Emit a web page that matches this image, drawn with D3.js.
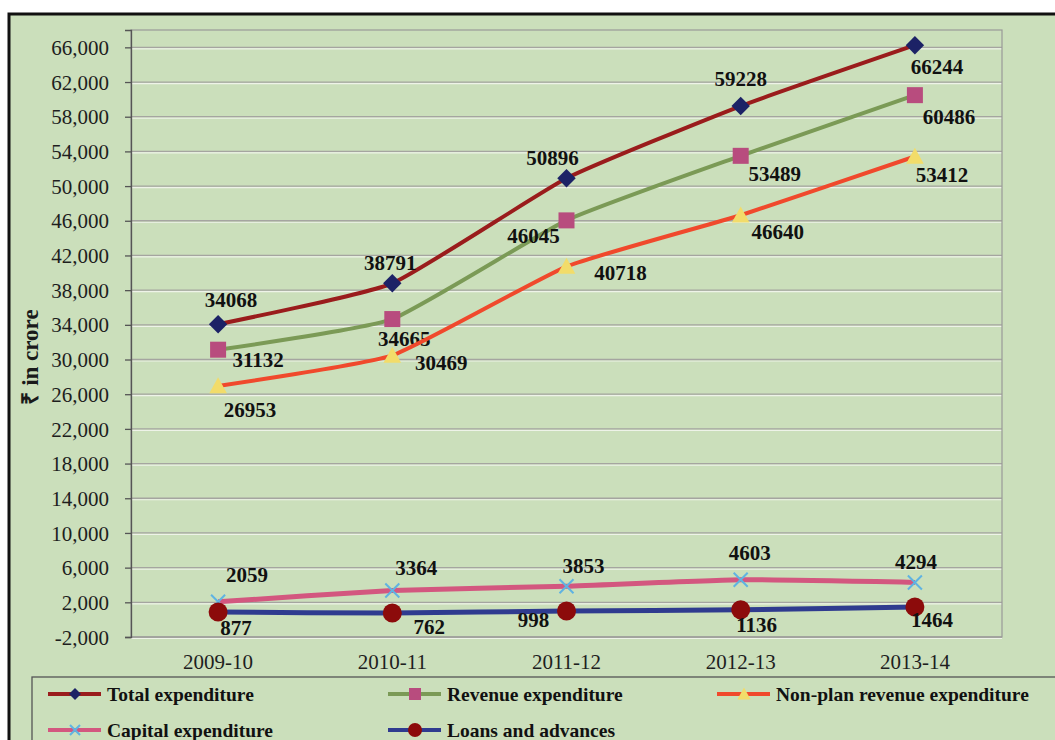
<!DOCTYPE html>
<html>
<head>
<meta charset="utf-8">
<script src="https://cdn.jsdelivr.net/npm/d3@7"></script>
<style>
  body { margin: 0; background: #fff; }
  svg { display: block; }
  text { font-family: "Liberation Serif", "Times New Roman", serif; }
</style>
</head>
<body>
<svg id="chart" width="1055" height="740"></svg>
<script>
// years on the x axis
const years = ["2009-10", "2010-11", "2011-12", "2012-13", "2013-14"];

// series values (₹ in crore)
const totalExp = [34068, 38791, 50896, 59228, 66244];
const revenueExp = [31132, 34665, 46045, 53489, 60486];
const nonPlanExp = [26953, 30469, 40718, 46640, 53412];
const capitalExp = [2059, 3364, 3853, 4603, 4294];
const loansAdv = [877, 762, 998, 1136, 1464];

// y ticks
const yTicks = [-2000, 2000, 6000, 10000, 14000, 18000, 22000, 26000, 30000,
    34000, 38000, 42000, 46000, 50000, 54000, 58000, 62000, 66000];

// styling + label nudges per series (kept apart from the values)
const series = [
    { name: "Total expenditure", values: totalExp, line: "#9a1c1c", marker: "diamond", fill: "#1c2266", width: 4,
      lab: [[13, -25], [-2, -21], [-14, -21], [0, -27], [22, 21]] },
    { name: "Revenue expenditure", values: revenueExp, line: "#7b9a56", marker: "square", fill: "#b84c7e", width: 4,
      lab: [[40, 10], [12, 20], [-33, 15], [34, 18], [34, 21]] },
    { name: "Non-plan revenue expenditure", values: nonPlanExp, line: "#f0492c", marker: "triangle", fill: "#f2dc6a", width: 4,
      lab: [[32, 24], [49, 7], [54, 6], [37, 16], [27, 18]] },
    { name: "Capital expenditure", values: capitalExp, line: "#d3577f", marker: "cross", fill: "#5fb3e2", width: 5,
      lab: [[29, -27], [24, -23], [17, -21], [9, -27], [1, -21]] },
    { name: "Loans and advances", values: loansAdv, line: "#2f3b8f", marker: "circle", fill: "#8c0b0b", width: 5,
      lab: [[18, 16], [37, 14], [-33, 9], [16, 15], [17, 13]] }
];

const svg = d3.select("#chart");
const margin = { top: 30, right: 53, bottom: 103, left: 131 };
const W = 1055, H = 740;

// outer frame (runs off the picture on the right and bottom)
svg.append("rect")
    .attr("x", 9).attr("y", 14)
    .attr("width", 1080).attr("height", 760)
    .attr("fill", "#cbdfbb")
    .attr("stroke", "#111").attr("stroke-width", 3);

const x = d3.scaleBand()
    .domain(years)
    .range([margin.left, W - margin.right])
    .padding(0);

const y = d3.scaleLinear()
    .domain([-2000, 68000])
    .range([H - margin.bottom, margin.top]);

const cx = d => x(d) + x.bandwidth() / 2;

// gridlines
const grid = svg.append("g");
grid.selectAll("line.w")
    .data(yTicks)
    .join("line")
    .attr("class", "w")
    .attr("x1", margin.left).attr("x2", W - margin.right)
    .attr("y1", d => y(d) + 1.5).attr("y2", d => y(d) + 1.5)
    .attr("stroke", "#eef3e8").attr("stroke-width", 1.2);
grid.selectAll("line.g")
    .data(yTicks)
    .join("line")
    .attr("class", "g")
    .attr("x1", margin.left).attr("x2", W - margin.right)
    .attr("y1", d => y(d)).attr("y2", d => y(d))
    .attr("stroke", "#a5a5a0").attr("stroke-width", 1.3);

// plot area border
svg.append("rect")
    .attr("x", margin.left).attr("y", margin.top)
    .attr("width", W - margin.right - margin.left)
    .attr("height", H - margin.bottom - margin.top)
    .attr("fill", "none")
    .attr("stroke", "#9a9a98").attr("stroke-width", 1.2);

// y axis
const fmt = d3.format(",");
svg.append("g")
    .attr("transform", `translate(${margin.left},0)`)
    .call(d3.axisLeft(y).tickValues(yTicks).tickSize(6).tickPadding(16)
        .tickFormat(d => fmt(d).replace("\u2212", "-")))
    .call(g => g.select(".domain").attr("stroke", "#555").attr("stroke-width", 1.3))
    .call(g => g.selectAll(".tick line").attr("stroke", "#555").attr("stroke-width", 1.3))
    .call(g => g.selectAll("text").attr("fill", "#1e1e1e")
        .style("font-size", "21px").attr("dy", "0.34em"));

// x axis labels (no ticks)
svg.append("g")
    .attr("transform", `translate(0,${H - margin.bottom})`)
    .call(d3.axisBottom(x).tickSize(0).tickPadding(17))
    .call(g => g.select(".domain").remove())
    .call(g => g.selectAll("text").attr("fill", "#1e1e1e")
        .style("font-size", "21px"));

// y axis title
svg.append("text")
    .attr("transform", "translate(38,357) rotate(-90)")
    .attr("text-anchor", "middle")
    .attr("fill", "#1a1a1a")
    .style("font-size", "23px")
    .style("font-weight", "bold")
    .text("₹ in crore");

// marker drawing
function drawMarker(g, type, fill, s) {
    if (type === "diamond") {
        g.append("path").attr("d", d3.symbol(d3.symbolDiamond2, s * s * 0.75)()).attr("fill", fill);
    } else if (type === "square") {
        g.append("rect").attr("x", -s / 2).attr("y", -s / 2).attr("width", s).attr("height", s).attr("fill", fill);
    } else if (type === "triangle") {
        g.append("path").attr("d", `M0,${-s * 0.55}L${s * 0.55},${s * 0.45}L${-s * 0.55},${s * 0.45}Z`).attr("fill", fill);
    } else if (type === "cross") {
        g.append("path").attr("d", `M${-s / 2},${-s / 2}L${s / 2},${s / 2}M${s / 2},${-s / 2}L${-s / 2},${s / 2}`)
            .attr("stroke", fill).attr("stroke-width", 2).attr("fill", "none");
    } else if (type === "circle") {
        g.append("circle").attr("r", s / 2).attr("fill", fill);
    }
}

// excel-ish smoothing, kept gentle so segments stay near straight
const line = d3.line()
    .x((d, i) => cx(years[i]))
    .y(d => y(d))
    .curve(d3.curveCardinal.tension(0.55));

const markerSize = { diamond: 17, square: 16, triangle: 16, cross: 14, circle: 19 };

series.forEach(s => {
    svg.append("path")
        .datum(s.values)
        .attr("fill", "none")
        .attr("stroke", s.line)
        .attr("stroke-width", s.width)
        .attr("stroke-linejoin", "round")
        .attr("d", line);

    s.values.forEach((v, i) => {
        const g = svg.append("g").attr("transform", `translate(${cx(years[i])},${y(v)})`);
        drawMarker(g, s.marker, s.fill, markerSize[s.marker]);
    });

    svg.append("g").selectAll("text")
        .data(s.values)
        .join("text")
        .attr("x", (d, i) => cx(years[i]) + s.lab[i][0])
        .attr("y", (d, i) => y(d) + s.lab[i][1])
        .attr("dy", "0.35em")
        .attr("text-anchor", "middle")
        .attr("fill", "#111")
        .style("font-size", "21px")
        .style("font-weight", "bold")
        .text(d => d);
});

// legend box
svg.append("rect")
    .attr("x", 32).attr("y", 677)
    .attr("width", 1040).attr("height", 80)
    .attr("fill", "none")
    .attr("stroke", "#555").attr("stroke-width", 1.3);

const legendPos = [[48, 694], [388, 694], [717, 694], [48, 730], [388, 730]];
const legendMarker = { diamond: 11, square: 12, triangle: 12, cross: 10, circle: 14 };

series.forEach((s, i) => {
    const [lx, ly] = legendPos[i];
    const g = svg.append("g").attr("transform", `translate(${lx},${ly})`);
    g.append("line")
        .attr("x1", 0).attr("x2", 53)
        .attr("stroke", s.line).attr("stroke-width", 4);
    drawMarker(g.append("g").attr("transform", "translate(27,0)"), s.marker, s.fill, legendMarker[s.marker]);
    g.append("text")
        .attr("x", 59).attr("dy", "0.35em")
        .attr("fill", "#111")
        .style("font-size", "19.5px")
        .style("font-weight", "bold")
        .text(s.name);
});
</script>
</body>
</html>
